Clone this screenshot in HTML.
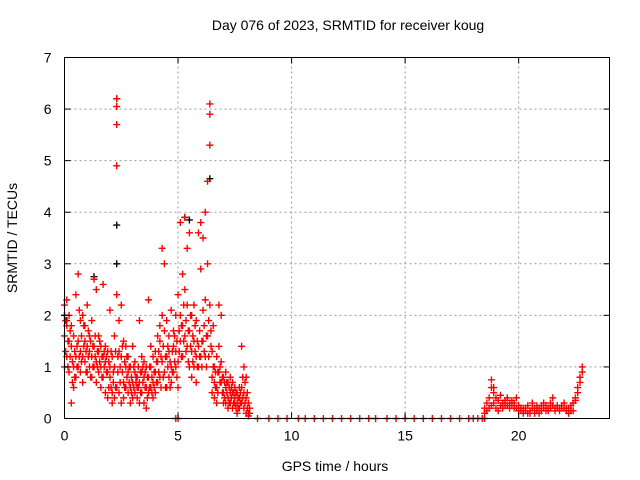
<!DOCTYPE html>
<html><head><meta charset="utf-8"><style>
body{margin:0;background:#fff}
svg{display:block;font-family:"Liberation Sans",sans-serif}
</style></head><body>
<svg id="chart" width="640" height="480" viewBox="0 0 640 480">
<rect width="640" height="480" fill="#fff"/>
<text x="348" y="30" font-size="14" text-anchor="middle" fill="#000">Day 076 of 2023, SRMTID for receiver koug</text>
<g id="grid"></g>
<g id="blackPts"></g>
<g id="redPts"></g>
<rect x="64.5" y="57.5" width="545" height="361" fill="none" stroke="#000" stroke-width="1"/>
<g id="ticks"></g>
<text x="335" y="471" font-size="14" text-anchor="middle">GPS time / hours</text>
<text transform="translate(17,238) rotate(-90)" font-size="14" text-anchor="middle">SRMTID / TECUs</text>
</svg>
<script>
const xTicks=[0,5,10,15,20];
const yTicks=[0,1,2,3,4,5,6,7];
const earlyHours=[0,0.1,0.2,0.3,0.4,0.5,0.6,0.7,0.8,0.9,1.0,1.1,1.2,1.3,1.4,1.5,1.6,1.7,1.8,1.9,2.0,2.1,2.2,2.3,2.4,2.5,2.6,2.7,2.8,2.9,3.0,3.1,3.2,3.3,3.4,3.5,3.6,3.7,3.8,3.9,4.0,4.1,4.2,4.3,4.4,4.5,4.6,4.7,4.8,4.9,5.0,5.1,5.2,5.3,5.4,5.5,5.6,5.7,5.8,5.9,6.0,6.1,6.2,6.3,6.4,6.5,6.6,6.7,6.8,6.9,7.0,7.1,7.2,7.3,7.4,7.5,7.6,7.7,7.8,7.9,8.0,8.1];
const earlyValues=[[1.6,2.2,1.0],[2.3,1.8,1.2],[1.5,0.9,2.0],[0.3,1.4,1.8],[1.0,1.6,0.6],[2.4,1.2,0.8],[2.8,1.0,1.5],[1.9,0.9,1.3],[1.2,2.0,0.7],[1.5,1.1,1.8],[1.4,0.9,2.2],[1.0,1.6,1.3],[1.2,0.8,1.9],[2.7,1.4,1.0],[2.5,1.1,0.7],[1.3,0.9,1.6],[1.0,1.4,0.6],[2.6,1.2,0.8],[1.1,0.5,1.4],[0.9,1.3,0.4],[0.8,1.0,2.1],[0.5,1.2,0.3],[1.6,0.4,1.0],[6.2,6.05,5.7,4.9,2.4,0.6],[1.3,0.5,1.9],[1.2,0.3,2.2],[0.7,1.5,0.4],[1.0,0.6,1.4],[0.5,0.9,1.2],[0.3,1.0,0.6],[0.7,1.4,0.4],[0.9,0.5,1.1],[0.4,0.8,0.6],[1.9,0.7,0.3],[1.2,0.5,0.9],[0.8,0.3,1.1],[0.6,1.0,0.2],[2.3,0.8,0.5],[1.0,0.6,1.4],[0.7,1.2,0.4],[0.9,0.5,1.3],[1.1,0.7,1.6],[0.8,1.5,1.8],[3.3,1.1,2.0],[3.0,1.7,0.9],[1.2,1.9,0.6],[1.6,0.8,1.3],[1.0,2.1,0.7],[1.7,0.9,1.4],[1.3,2.0,1.0,0],[2.4,1.1,0.6,0],[3.8,1.5,2.0],[2.8,1.2,1.8],[3.9,2.5,1.6],[3.3,2.2,1.4],[3.6,1.7,1.0],[2.0,1.3,0.8],[1.5,1.0,2.2],[1.2,0.7,1.9],[3.6,1.4,1.0],[3.8,2.9,1.2],[3.5,2.1,1.5],[2.3,1.2,4.0],[3.0,4.6,1.6],[6.1,5.3,5.9,2.2],[1.3,0.8,0.5],[1.0,0.4,0.7],[0.6,1.2,0.3],[2.2,0.9,1.4],[2.0,0.7,1.1],[0.5,0.8,0.3],[0.6,0.3,0.9],[0.4,0.7,0.2],[0.8,0.5,0.3],[0.5,0.2,0.7],[0.4,0.6,0.3],[0.3,0.5,0.1],[0.6,0.2,0.4],[1.4,0.3,0.6],[1.0,0.2,0.5],[0.8,0.4,0.1],[0.3,0.1,0.05]];
const earlyValues2=[[1.3,1.9],[1.0,1.5],[1.2,1.7],[1.1,0.7],[1.3,0.8],[1.4,1.0],[1.2,2.1],[1.6,1.1],[1.4,1.8],[1.3,0.9],[1.2,1.7],[1.5,0.8],[1.4,1.0],[1.2,1.6],[1.3,1.0],[1.1,1.5],[1.2,0.8],[1.0,1.3],[0.9,1.2],[1.1,0.6],[1.3,0.6],[0.9,0.7],[1.3,0.6],[1.2,0.9],[1.0,0.7],[0.9,1.4],[1.1,0.6],[0.8,1.2],[0.7,1.0],[0.8,0.5],[1.0,0.6],[0.7,0.8],[0.6,1.0],[0.9,0.5],[0.7,1.0],[0.6,0.9],[0.8,0.4],[0.6,1.0],[0.8,0.5],[0.9,0.6],[0.7,1.1],[0.9,1.3],[1.2,0.6],[1.4,0.8],[1.2,0.6],[1.0,1.4],[1.1,0.6],[1.3,0.9],[1.1,1.6],[1.5,0.8],[1.7,1.3],[1.8,1.2],[1.5,2.2],[1.9,1.3],[1.7,1.1],[1.4,2.0],[1.6,1.1],[1.3,1.8],[1.0,1.5],[1.2,1.7],[1.5,1.0],[1.3,1.8],[1.0,1.6],[1.2,1.9],[1.4,1.7],[1.0,1.8],[0.6,0.9],[0.9,0.5],[0.7,1.0],[0.5,0.8],[0.7,0.4],[0.5,0.7],[0.6,0.3],[0.4,0.6],[0.3,0.5],[0.5,0.2],[0.4,0.2],[0.3,0.5],[0.8,0.4],[0.7,0.3],[0.5,0.2],[0.2,0.1]];
const quietHours=[8.5,9.0,9.4,9.8,10.3,10.6,11.0,11.4,11.8,12.2,12.6,13.0,13.4,13.7,14.2,14.6,15.0,15.4,15.8,16.2,16.6,17.0,17.4,17.8,18.0,18.2,18.4];
const quietValues=[0,0,0,0,0,0,0,0,0,0,0,0,0,0,0,0,0,0,0,0,0,0,0,0,0,0,0];
const lateHours=[18.5,18.6,18.7,18.8,18.9,19.0,19.1,19.2,19.3,19.4,19.5,19.6,19.7,19.8,19.9,20.0,20.1,20.2,20.3,20.4,20.5,20.6,20.7,20.8,20.9,21.0,21.1,21.2,21.3,21.4,21.5,21.6,21.7,21.8,21.9,22.0,22.1,22.2,22.3,22.4,22.5,22.6,22.7,22.8];
const lateValues=[[0.1,0.2,0],[0.3,0.15],[0.4,0.2],[0.75,0.25,0.6],[0.6,0.3,0.5],[0.2,0.4],[0.35,0.15],[0.45,0.25],[0.3,0.2],[0.35,0.25],[0.25,0.4],[0.3,0.2],[0.35,0.25],[0.2,0.3],[0.4,0.2],[0.25,0.15],[0.15,0.2],[0.1,0.2],[0.2,0.15],[0.1,0.25],[0.15,0.1],[0.3,0.2],[0.2,0.1],[0.15,0.25],[0.2,0.1],[0.15,0.25],[0.3,0.2],[0.15,0.25],[0.2,0.15],[0.3,0.2],[0.4,0.25],[0.2,0.15],[0.25,0.2],[0.15,0.2],[0.2,0.25],[0.3,0.2],[0.2,0.15],[0.1,0.2],[0.25,0.15],[0.15,0.3],[0.35,0.4],[0.6,0.5],[0.8,0.7],[1.0,0.9]];
const blackHours=[0,0.1,1.3,2.3,2.3,2.3,5.3,5.5,6.4];
const blackValues=[2.0,1.9,2.75,6.2,3.75,3.0,3.9,3.85,4.65];

const X0=64.5,X1=609.5,Y0=418.5,Y1=57.5,XMAX=24,YMAX=7;
const sx=h=>X0+h/XMAX*(X1-X0);
const sy=v=>Y0-v/YMAX*(Y0-Y1);
const NS='http://www.w3.org/2000/svg';
function mk(tag,attrs,parent){const e=document.createElementNS(NS,tag);for(const k in attrs)e.setAttribute(k,attrs[k]);parent.appendChild(e);return e;}
const grid=document.getElementById('grid'),ticks=document.getElementById('ticks');
xTicks.forEach(t=>{const x=sx(t);
 if(t>0){const g=mk('line',{x1:x,x2:x,y1:Y0,y2:Y1,stroke:'#999','stroke-dasharray':'2,3'},grid);
 
 }
 mk('line',{x1:x,x2:x,y1:Y0,y2:Y0-6,stroke:'#000'},ticks);
 mk('line',{x1:x,x2:x,y1:Y1,y2:Y1+6,stroke:'#000'},ticks);
 const l=mk('text',{x:x,y:Y0+22,'font-size':'14','text-anchor':'middle'},ticks);l.textContent=t;
 
 });
yTicks.forEach(t=>{const y=sy(t);
 if(t>0&&t<YMAX){const g=mk('line',{x1:X0,x2:X1,y1:y,y2:y,stroke:'#999','stroke-dasharray':'2,3'},grid);
 
 }
 mk('line',{x1:X0,x2:X0+6,y1:y,y2:y,stroke:'#000'},ticks);
 mk('line',{x1:X1,x2:X1-6,y1:y,y2:y,stroke:'#000'},ticks);
 const l=mk('text',{x:X0-13,y:y+5,'font-size':'14','text-anchor':'end'},ticks);l.textContent=t;
 
 });
function plus(h,v,color,parent){const x=sx(h),y=sy(v);
 const p=mk('path',{d:`M${x-3.5},${y}H${x+3.5}M${x},${y-3.5}V${y+3.5}`,stroke:color,'stroke-width':'1.4',fill:'none'},parent);
 
 }
const bp=document.getElementById('blackPts'),rp=document.getElementById('redPts');
blackHours.forEach((h,i)=>plus(h,blackValues[i],'#000',bp));
earlyHours.forEach((h,i)=>earlyValues[i].forEach(v=>plus(h,v,'#f00',rp)));
earlyHours.forEach((h,i)=>earlyValues2[i].forEach(v=>plus(h+0.05,v,'#f00',rp)));
quietHours.forEach((h,i)=>plus(h,quietValues[i],'#f00',rp));
lateHours.forEach((h,i)=>lateValues[i].forEach(v=>plus(h,v,'#f00',rp)));
</script>
</body></html>
